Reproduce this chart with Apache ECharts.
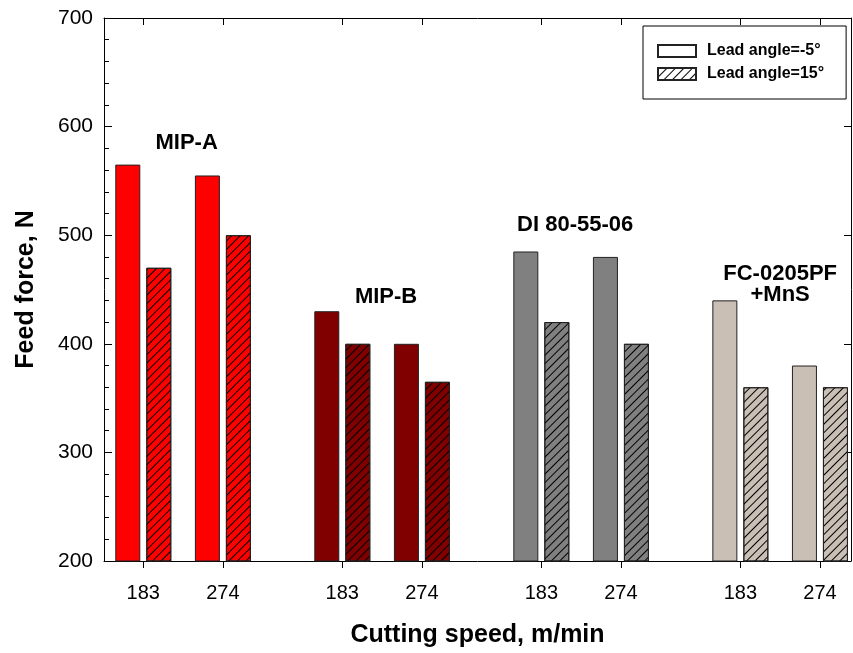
<!DOCTYPE html>
<html>
<head>
<meta charset="utf-8">
<script src="https://cdn.jsdelivr.net/npm/echarts@6/dist/echarts.min.js"></script>
<style>
html,body{margin:0;padding:0;background:#fff;}
#chart{width:853px;height:653px;}
</style>
</head>
<body>
<div id="chart"></div>
<script>
// ---- data ----
const speeds = ['183', '274'];
const groups = ['MIP-A', 'MIP-B', 'DI 80-55-06', 'FC-0205PF\n+MnS'];
const leadMinus5 = [565, 555, 430, 400, 485, 480, 440, 380];
const lead15 = [470, 500, 400, 365, 420, 400, 360, 360];
const yTicks = [200, 300, 400, 500, 600, 700];
const seriesNames = ['Lead angle=-5°', 'Lead angle=15°'];
// group label anchor values (y) and x offsets from the group's first speed
const groupLabelValues = [585, 443, 509, 455];
const groupLabelOffsets = [1.09, 1.1, 0.85, 1.0];

// ---- styles ----
const groupColors = ['#ff0000', '#800000', '#808080', '#c9bfb4'];
const FONT = '"Liberation Sans", Arial, sans-serif';

// x position: group g, speed s
function xPos(g, s) { return g * 5 + s * 2; }
const tickPos = [];
const tickText = {};
groups.forEach((g, gi) => speeds.forEach((sp, si) => {
  const p = xPos(gi, si);
  tickPos.push(p);
  tickText[p] = sp;
}));

function barData(values) {
  const out = [];
  groups.forEach((g, gi) => speeds.forEach((sp, si) => {
    const idx = gi * speeds.length + si;
    out.push({ value: [xPos(gi, si), values[idx]], itemStyle: { color: groupColors[gi] } });
  }));
  return out;
}

const hatch = {
  symbol: 'rect',
  symbolSize: 1,
  dashArrayX: [1, 0],
  dashArrayY: [1, 4.8],
  rotation: -Math.PI / 4,
  color: '#000'
};

const labelData = groups.map((g, gi) => ({
  name: g,
  value: [gi * 5 + groupLabelOffsets[gi], groupLabelValues[gi]]
}));

const XMIN = -0.987, XMAX = 17.78;

const chart = echarts.init(document.getElementById('chart'), null, { renderer: 'canvas' });
chart.setOption({
  animation: false,
  backgroundColor: '#fff',
  textStyle: { fontFamily: FONT },
  grid: { left: 104, top: 18, right: 2, bottom: 91, containLabel: false },
  legend: {
    data: seriesNames,
    orient: 'vertical',
    left: 643,
    top: 26,
    icon: 'rect',
    itemWidth: 38,
    itemHeight: 12,
    itemGap: 7,
    padding: [17, 22, 17, 14],
    borderColor: '#000',
    borderWidth: 1,
    borderRadius: 0,
    backgroundColor: '#fff',
    selectedMode: false,
    textStyle: { fontSize: 16, fontWeight: 'bold', color: '#000', fontFamily: FONT, padding: [0, 0, 0, 6] }
  },
  xAxis: [{
    type: 'value',
    min: XMIN, max: XMAX,
    position: 'bottom',
    name: 'Cutting speed, m/min',
    nameLocation: 'middle',
    nameGap: 62,
    nameTextStyle: { fontSize: 25, fontWeight: 'bold', color: '#000', fontFamily: FONT },
    splitLine: { show: false },
    axisLine: { show: true, onZero: false, lineStyle: { color: '#000', width: 1 } },
    axisTick: { show: true, inside: false, length: 7, customValues: tickPos, lineStyle: { color: '#000' } },
    axisLabel: {
      show: true, customValues: tickPos, margin: 22, fontSize: 20, color: '#000', fontFamily: FONT,
      formatter: v => tickText[Math.round(v)] || ''
    }
  }, {
    type: 'value',
    min: XMIN, max: XMAX,
    position: 'top',
    splitLine: { show: false },
    axisLine: { show: true, onZero: false, lineStyle: { color: '#000', width: 1 } },
    axisTick: { show: true, inside: true, length: 7, customValues: tickPos, lineStyle: { color: '#000' } },
    axisLabel: { show: false }
  }],
  yAxis: [{
    type: 'value',
    min: 200, max: 700, interval: 100,
    name: 'Feed force, N',
    nameLocation: 'middle',
    nameGap: 65,
    nameRotate: 90,
    nameTextStyle: { fontSize: 25, fontWeight: 'bold', color: '#000', fontFamily: FONT },
    splitLine: { show: false },
    axisLine: { show: true, onZero: false, lineStyle: { color: '#000', width: 1 } },
    axisTick: { show: true, inside: true, length: 8, lineStyle: { color: '#000' } },
    minorTick: { show: true, splitNumber: 5, length: 5, lineStyle: { color: '#000' } },
    axisLabel: { margin: 11, fontSize: 21, color: '#000', fontFamily: FONT,
      customValues: yTicks }
  }, {
    type: 'value',
    min: 200, max: 700, interval: 100,
    position: 'right',
    splitLine: { show: false },
    axisLine: { show: true, onZero: false, lineStyle: { color: '#000', width: 1 } },
    axisTick: { show: true, inside: true, length: 7, lineStyle: { color: '#000' } },
    axisLabel: { show: false }
  }],
  series: [{
    name: seriesNames[0],
    type: 'bar',
    xAxisIndex: 0, yAxisIndex: 0,
    barWidth: 25,
    barGap: '24%',
    itemStyle: { color: '#fff', borderColor: '#222', borderWidth: 1 },
    data: barData(leadMinus5)
  }, {
    name: seriesNames[1],
    type: 'bar',
    xAxisIndex: 0, yAxisIndex: 0,
    barWidth: 25,
    barGap: '24%',
    itemStyle: { color: '#fff', borderColor: '#222', borderWidth: 1, decal: hatch },
    data: barData(lead15)
  }, {
    name: 'groupLabels',
    type: 'scatter',
    xAxisIndex: 0, yAxisIndex: 0,
    symbolSize: 0,
    itemStyle: { color: '#000', opacity: 1 },
    silent: true,
    label: {
      show: true, position: 'inside', formatter: p => p.name,
      fontSize: 22, fontWeight: 'bold', color: '#000', fontFamily: FONT,
      align: 'center', verticalAlign: 'middle', lineHeight: 21
    },
    data: labelData
  }]
});
</script>
</body>
</html>
